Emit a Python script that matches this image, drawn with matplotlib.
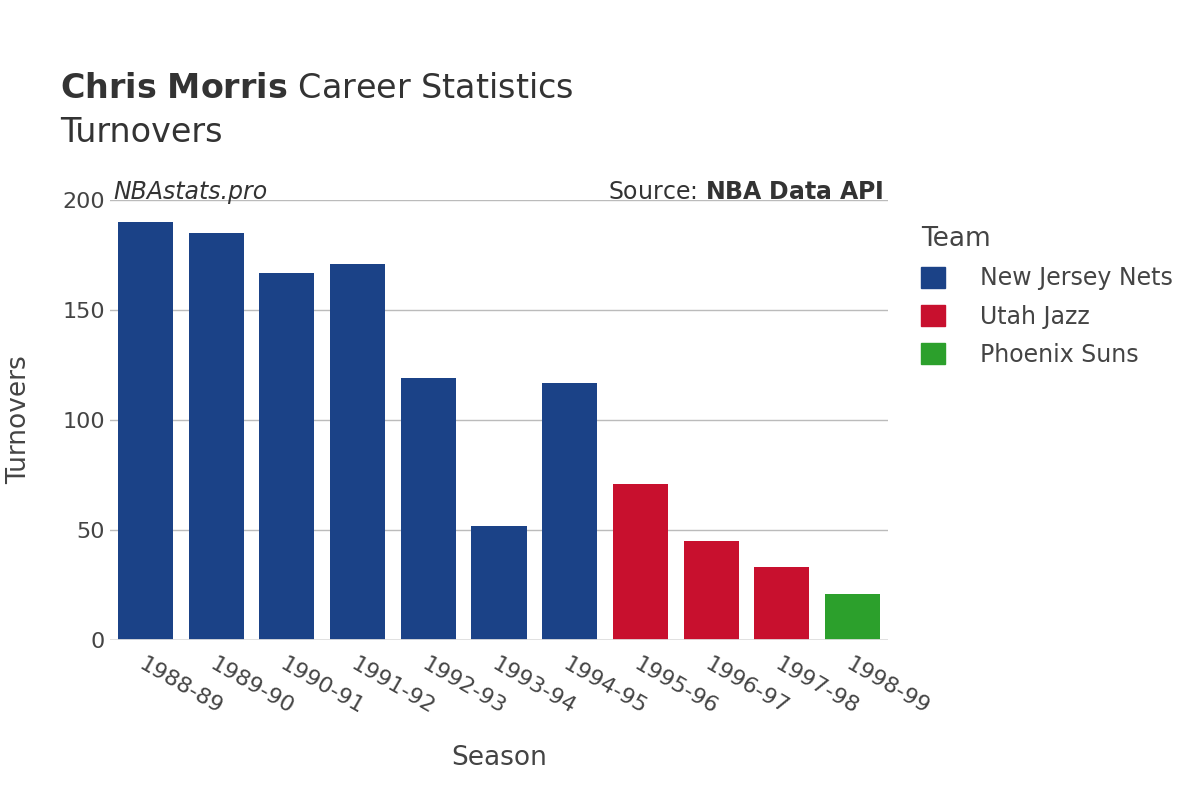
import matplotlib
matplotlib.use("Agg")
import matplotlib.pyplot as plt
from matplotlib.patches import Patch

seasons = ["1988-89","1989-90","1990-91","1991-92","1992-93","1993-94","1994-95","1995-96","1996-97","1997-98","1998-99"]
turnovers = [190,185,167,171,119,52,117,71,45,33,21]
teams = ["New Jersey Nets"]*7 + ["Utah Jazz"]*3 + ["Phoenix Suns"]
team_names = ["New Jersey Nets","Utah Jazz","Phoenix Suns"]
team_colors = {"New Jersey Nets":"#1b4287","Utah Jazz":"#c8102e","Phoenix Suns":"#2ca02c"}

plt.rcParams["font.family"] = "DejaVu Sans"
fig = plt.figure(figsize=(12,8), dpi=100)
ax = fig.add_axes([110/1200, 0.2, 778/1200, 0.55])
x = range(len(seasons))
ax.bar(x, turnovers, width=0.78, color=[team_colors[t] for t in teams], zorder=3)
ax.set_xlim(-0.5, len(seasons)-0.5)
ax.set_ylim(0, 200)
ax.set_yticks([0,50,100,150,200])
ax.grid(axis="y", color="#bbbbbb", linewidth=1, zorder=0)
for s in ax.spines.values():
    s.set_visible(False)
ax.axhline(0, color="#e0e0e0", linewidth=2, zorder=4)
ax.tick_params(axis="both", length=0, labelsize=16, colors="#444444")
ax.set_xticks(list(x))
ax.set_xticklabels(seasons, rotation=-30, ha="left", rotation_mode="anchor")
ax.tick_params(axis="x", pad=10)
ax.set_xlabel("Season", fontsize=19, color="#444444", labelpad=20)
ax.set_ylabel("Turnovers", fontsize=19, color="#444444", labelpad=22)

fig.text(60/1200, 1-88/800, r"$\bf{Chris\ Morris}$ Career Statistics", fontsize=24, color="#333333", va="center")
fig.text(60/1200, 1-132/800, "Turnovers", fontsize=24, color="#333333", va="center")
fig.text(113/1200, 1-192/800, "NBAstats.pro", fontsize=17, style="italic", color="#333333", va="center")
fig.text(884/1200, 1-192/800, r"Source: $\bf{NBA\ Data\ API}$", fontsize=17, color="#333333", va="center", ha="right")

handles = [Patch(color=team_colors[t], label=t) for t in team_names]
leg = fig.legend(handles=handles, loc="upper left", bbox_to_anchor=(900/1200, 1-205/800), title="Team",
                 frameon=False, fontsize=17, title_fontsize=19, handlelength=1.0, handleheight=1.0, labelspacing=0.6, handletextpad=1.5)
leg._legend_box.align = "left"
for t in leg.get_texts():
    t.set_color("#444444")
leg.get_title().set_color("#444444")
fig.savefig("out.png", dpi=100)
